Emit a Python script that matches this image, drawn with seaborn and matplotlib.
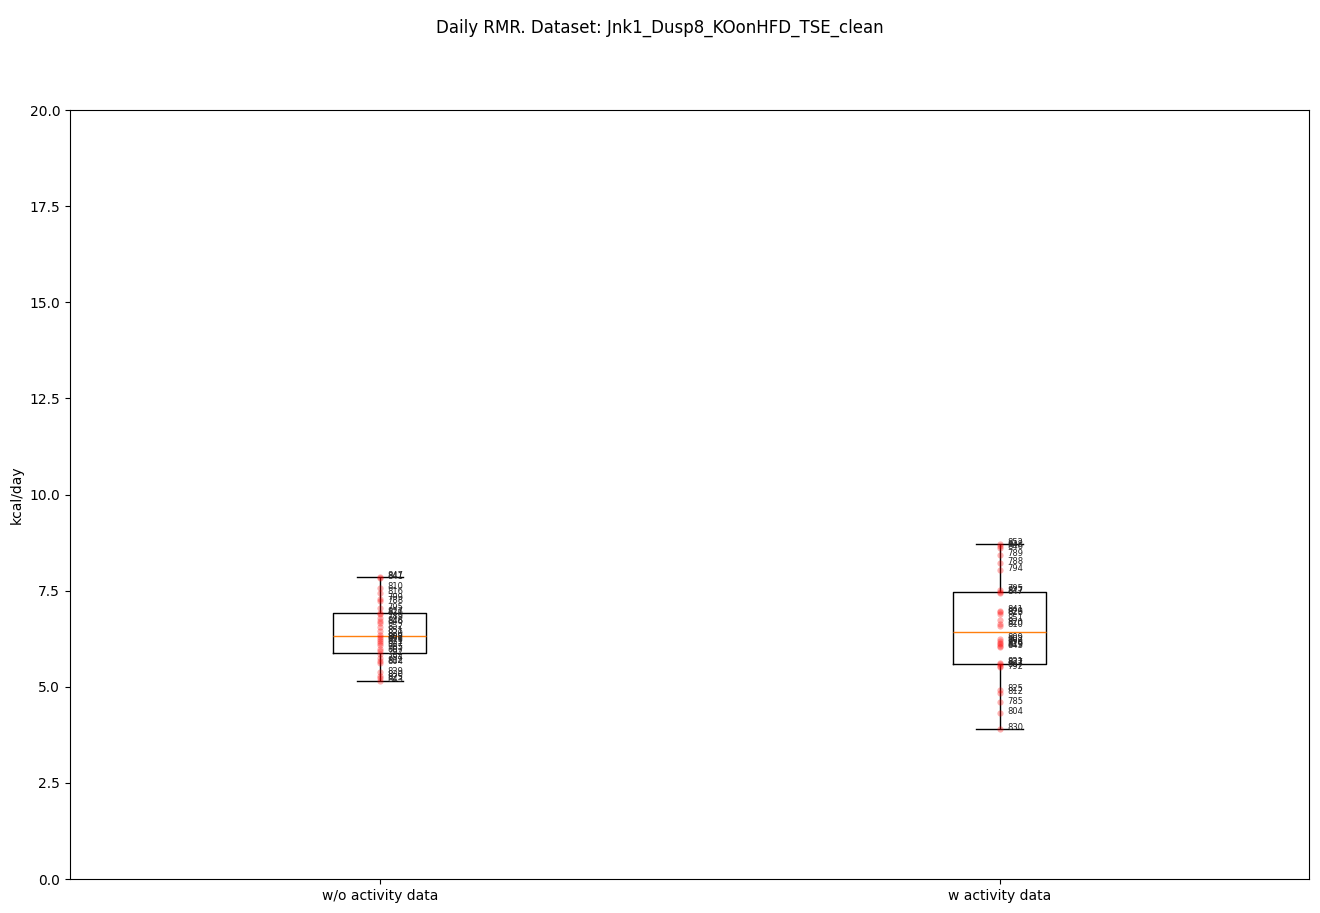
import numpy as np
import pandas as pd
import seaborn as sns
import matplotlib.pyplot as plt

# animal ids and daily RMR (kcal/day)
animals = [830, 804, 785, 812, 825, 792, 807, 827, 821, 843,
           819, 816, 799, 802, 809, 810, 820, 851, 826, 829,
           841, 847, 817, 795, 794, 788, 789, 846, 848, 852]

rmr_wo_activity = [5.28, 5.62, 5.99, 5.66, 5.22, 5.86, 5.94, 6.08, 6.15, 5.15,
                   6.20, 7.45, 7.28, 6.25, 6.29, 7.57, 6.35, 6.44, 6.90, 5.38,
                   7.83, 7.86, 6.93, 7.04, 5.74, 7.22, 6.80, 6.66, 6.70, 6.55]

rmr_w_activity = [3.90, 4.32, 4.60, 4.84, 4.92, 5.51, 5.54, 5.59, 5.62, 6.04,
                  6.07, 6.10, 6.15, 6.20, 6.25, 6.59, 6.63, 6.74, 6.90, 6.94,
                  6.98, 7.45, 7.47, 7.52, 8.04, 8.22, 8.43, 8.62, 8.66, 8.71]

groups = ['w/o activity data', 'w activity data']
dataset = 'Jnk1_Dusp8_KOonHFD_TSE_clean'

df = pd.DataFrame({
    'animal': animals * 2,
    'group': [groups[0]] * len(animals) + [groups[1]] * len(animals),
    'rmr': rmr_wo_activity + rmr_w_activity,
})

fig, ax = plt.subplots(figsize=(13.2, 9.13), dpi=100)
fig.subplots_adjust(left=0.053, right=0.992, top=0.8795, bottom=0.0372)

sns.boxplot(data=df, x='group', y='rmr', order=groups, width=0.15, fill=False,
            color='black', linecolor='black', linewidth=1, showfliers=False,
            medianprops={'color': '#ff7f0e'}, capwidths=0.075, ax=ax)
sns.stripplot(data=df, x='group', y='rmr', order=groups, jitter=False,
              color='red', alpha=0.3, size=4.5, ax=ax)

# label every point with its animal id
for i, g in enumerate(groups):
    sub = df[df['group'] == g]
    for a, v in zip(sub['animal'], sub['rmr']):
        ax.text(i + 0.012, v + 0.03, str(a), fontsize=6, va='center', color='#222222')

ax.set_xlim(-0.5, 1.5)
ax.set_ylim(0, 20)
ax.set_xlabel('')
ax.set_ylabel('kcal/day')
fig.suptitle('Daily RMR. Dataset: ' + dataset)

plt.savefig('out.png')
